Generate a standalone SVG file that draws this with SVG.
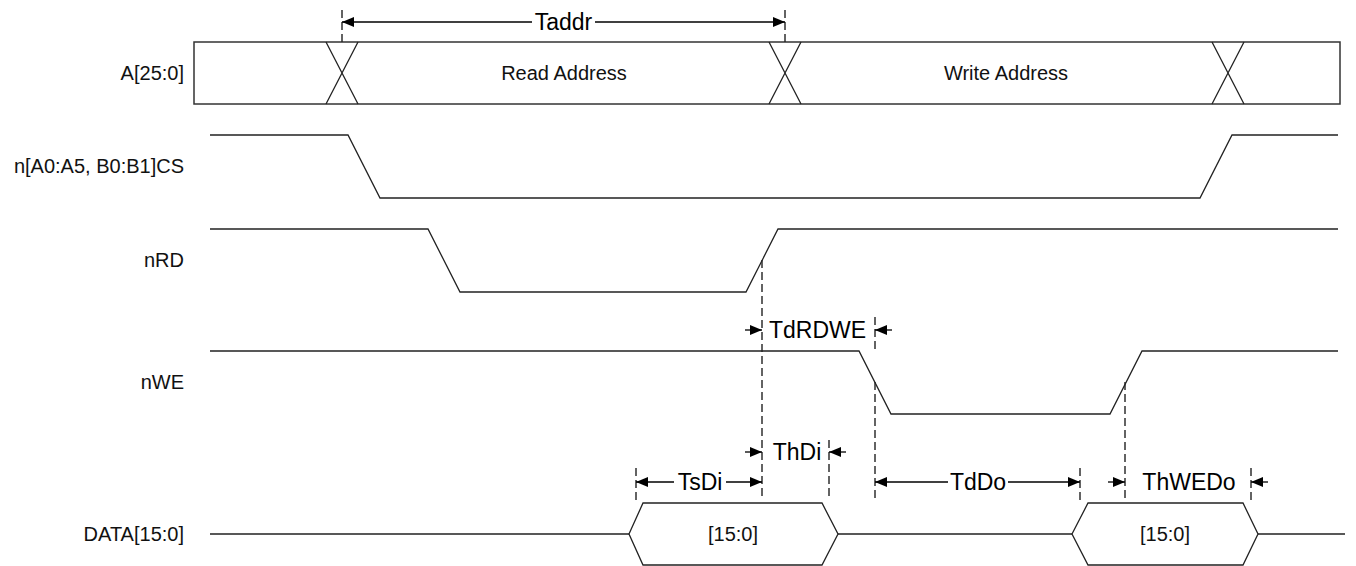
<svg xmlns="http://www.w3.org/2000/svg" width="1356" height="566" viewBox="0 0 1356 566">
<style>
.sig{fill:none;stroke:#222;stroke-width:1.3}
.box{fill:#fff;stroke:#333;stroke-width:1.5}
.dash{fill:none;stroke:#222;stroke-width:1.4;stroke-dasharray:8,4}
.dim{fill:none;stroke:#000;stroke-width:1.3}
.lbl{font-family:"Liberation Sans",Arial,sans-serif;font-size:20px;fill:#111}
.mt{font-family:"Liberation Sans",Arial,sans-serif;font-size:23px;fill:#000}
</style>
<defs>
<marker id="ah" markerUnits="userSpaceOnUse" markerWidth="13" markerHeight="11" refX="12" refY="5" orient="auto">
<path d="M0,0 L12,5 L0,10 z" fill="#000"/>
</marker>
</defs>
<rect width="1356" height="566" fill="#fff"/>
<g id="sig-A">
<rect class="box" x="194" y="42" width="1146" height="62"/>
<path class="sig" d="M326,42 L358,104 M358,42 L326,104 M769,42 L801,104 M801,42 L769,104 M1212,42 L1244,104 M1244,42 L1212,104"/>
<text class="lbl" x="184" y="80" text-anchor="end">A[25:0]</text>
<text class="lbl" x="564" y="80" text-anchor="middle">Read Address</text>
<text class="lbl" x="1006" y="80" text-anchor="middle">Write Address</text>
</g>
<g id="sig-CS">
<path class="sig" d="M210,135 L348,135 L380,198 L1200,198 L1232,135 L1338,135"/>
<text class="lbl" x="184" y="173" text-anchor="end">n[A0:A5, B0:B1]CS</text>
</g>
<g id="sig-nRD">
<path class="sig" d="M210,229 L428,229 L460,292 L746,292 L778,229 L1338,229"/>
<text class="lbl" x="184" y="267" text-anchor="end">nRD</text>
</g>
<g id="sig-nWE">
<path class="sig" d="M210,351 L859,351 L891,414 L1110,414 L1142,351 L1338,351"/>
<text class="lbl" x="184" y="389" text-anchor="end">nWE</text>
</g>
<g id="sig-DATA">
<path class="sig" d="M210,534 L629,534 M838,534 L1072,534 M1258,534 L1345,534"/>
<path class="sig" d="M629,534 L643,503 L822,503 L838,534 L822,565 L643,565 Z"/>
<path class="sig" d="M1072,534 L1088,503 L1243,503 L1258,534 L1243,565 L1088,565 Z"/>
<text class="lbl" x="184" y="541" text-anchor="end">DATA[15:0]</text>
<text class="lbl" x="733" y="541" text-anchor="middle">[15:0]</text>
<text class="lbl" x="1165" y="541" text-anchor="middle">[15:0]</text>
</g>
<g id="connectors">
<path class="dash" d="M342,10 V42 M785,10 V42 M762,260 V500 M875,317 V351 M875,382 V500 M829,440 V500 M636,468 V500 M1080,468 V500 M1125,382 V500 M1251,468 V500"/>
<line class="dim" x1="532" y1="22" x2="342" y2="22" marker-end="url(#ah)"/>
<line class="dim" x1="595" y1="22" x2="785" y2="22" marker-end="url(#ah)"/>
<line class="dim" x1="745" y1="330" x2="762" y2="330" marker-end="url(#ah)"/>
<line class="dim" x1="892" y1="330" x2="875" y2="330" marker-end="url(#ah)"/>
<line class="dim" x1="745" y1="452" x2="762" y2="452" marker-end="url(#ah)"/>
<line class="dim" x1="846" y1="452" x2="829" y2="452" marker-end="url(#ah)"/>
<line class="dim" x1="674" y1="482" x2="636" y2="482" marker-end="url(#ah)"/>
<line class="dim" x1="726" y1="482" x2="762" y2="482" marker-end="url(#ah)"/>
<line class="dim" x1="948" y1="482" x2="875" y2="482" marker-end="url(#ah)"/>
<line class="dim" x1="1008" y1="482" x2="1080" y2="482" marker-end="url(#ah)"/>
<line class="dim" x1="1108" y1="482" x2="1125" y2="482" marker-end="url(#ah)"/>
<line class="dim" x1="1268" y1="482" x2="1251" y2="482" marker-end="url(#ah)"/>
<text class="mt" x="563.5" y="30" text-anchor="middle">Taddr</text>
<text class="mt" x="817.5" y="338" text-anchor="middle">TdRDWE</text>
<text class="mt" x="797" y="460" text-anchor="middle">ThDi</text>
<text class="mt" x="700" y="490" text-anchor="middle">TsDi</text>
<text class="mt" x="978" y="490" text-anchor="middle">TdDo</text>
<text class="mt" x="1189" y="490" text-anchor="middle">ThWEDo</text>
</g>
</svg>
